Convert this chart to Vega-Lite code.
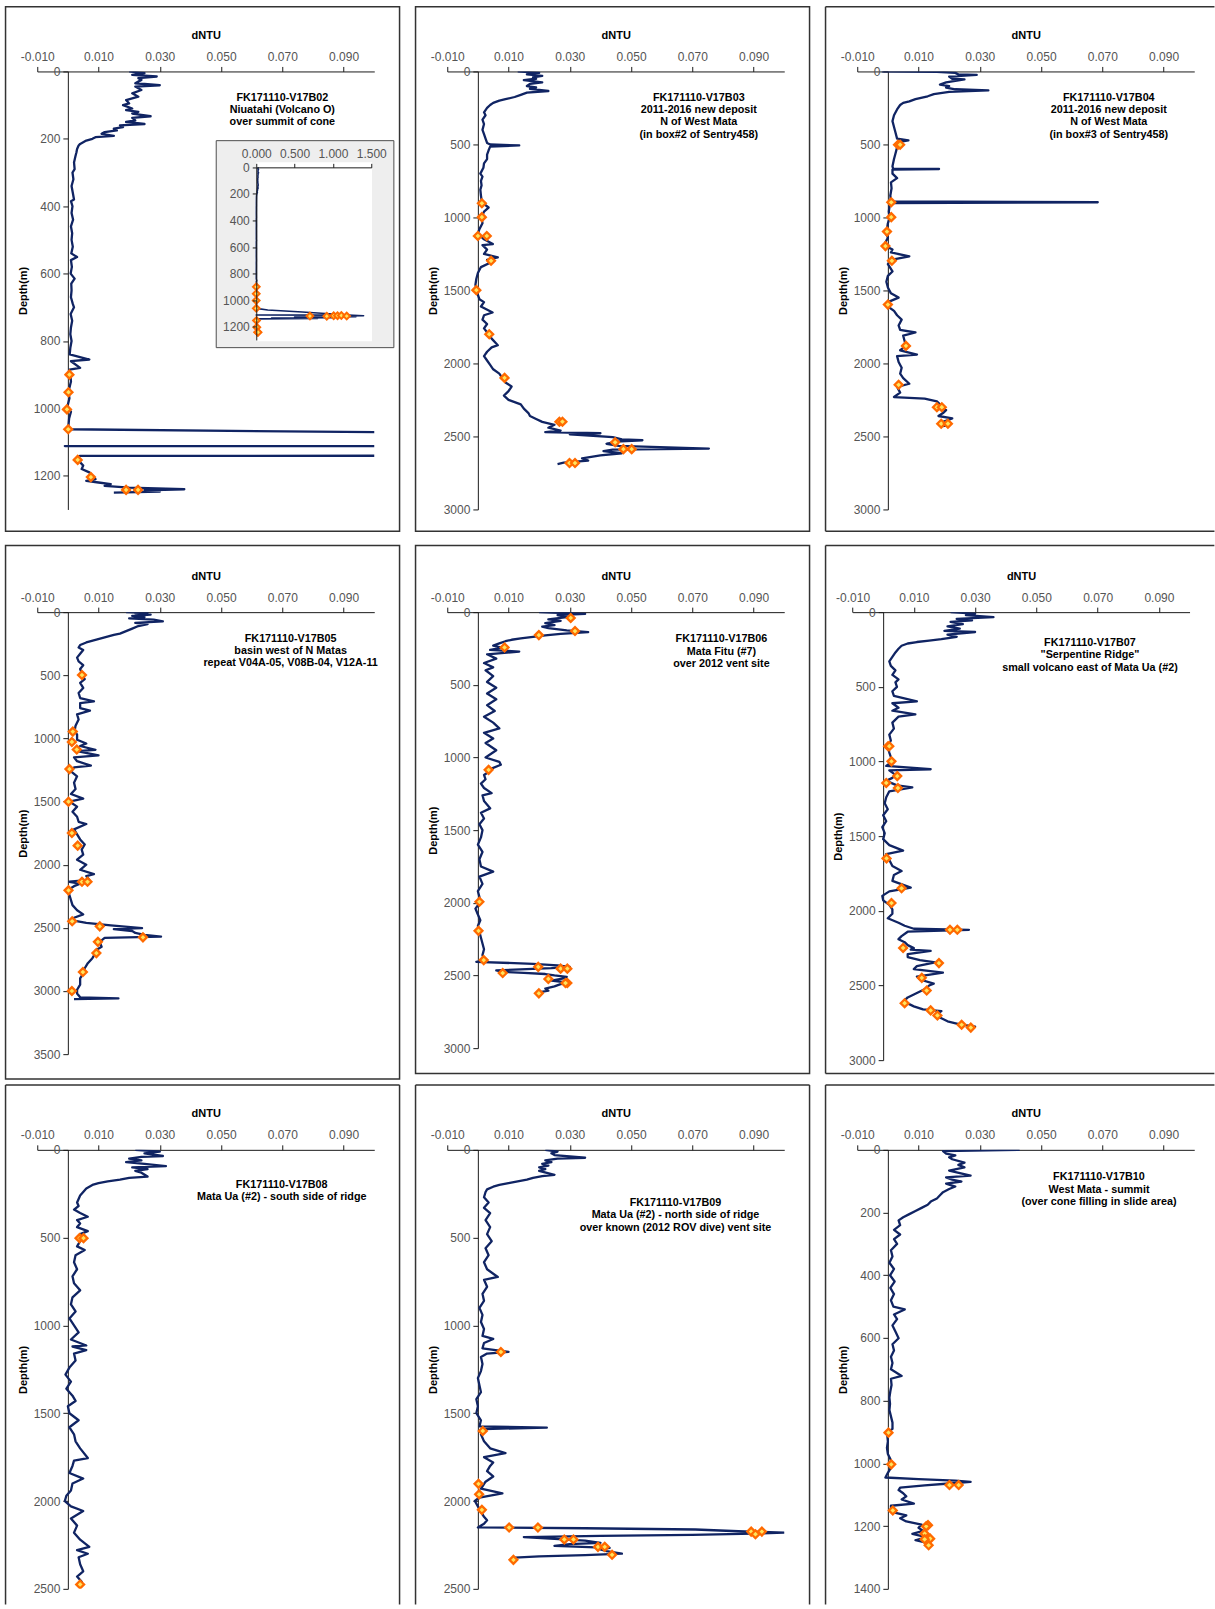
{
  "$schema": "https://vega.github.io/schema/vega-lite/v6.json",
  "autosize": {"type": "pad"},
  "padding": {"left": 4.25, "top": 5.45, "right": 0, "bottom": 0},
  "background": "#ffffff",
  "columns": 3,
  "bounds": "flush",
  "align": "each",
  "spacing": {"row": 89.7, "column": 73},
  "config": {
    "view": {"stroke": null},
    "font": "Liberation Sans",
    "axis": {"grid": false, "labelFlush": false, "labelOverlap": false, "labelFont": "Liberation Sans", "labelFontSize": 12, "labelColor": "#555555", "titleFont": "Liberation Sans", "titleFontSize": 11, "titleFontWeight": "bold", "titleColor": "#000000", "domainColor": "#1a1a1a", "tickColor": "#1a1a1a", "domainWidth": 1, "tickWidth": 1, "tickSize": 5, "labelPadding": 3},
    "axisTop": {"titlePadding": 10},
    "axisLeft": {"titlePadding": 5},
    "line": {"color": "#102463", "strokeWidth": 2.3, "strokeJoin": "round"},
    "point": {"shape": "diamond", "filled": true, "fill": "#ffe45c", "stroke": "#ff6a00", "strokeWidth": 2.3, "size": 62, "opacity": 1}
  },
  "datasets": {
    "b02": [{"d":0,"v":0.020},{"d":5,"v":0.025},{"d":10,"v":0.021},{"d":15,"v":0.029},{"d":20,"v":0.023},{"d":25,"v":0.024},{"d":35,"v":0.022},{"d":41,"v":0.030},{"d":45,"v":0.022},{"d":55,"v":0.024},{"d":65,"v":0.021},{"d":75,"v":0.023},{"d":85,"v":0.019},{"d":95,"v":0.020},{"d":100,"v":0.018},{"d":110,"v":0.021},{"d":115,"v":0.019},{"d":120,"v":0.023},{"d":125,"v":0.021},{"d":133,"v":0.027},{"d":138,"v":0.021},{"d":145,"v":0.022},{"d":150,"v":0.019},{"d":156,"v":0.025},{"d":160,"v":0.017},{"d":165,"v":0.018},{"d":170,"v":0.015},{"d":175,"v":0.016},{"d":180,"v":0.012},{"d":185,"v":0.011},{"d":191,"v":0.015},{"d":195,"v":0.009},{"d":200,"v":0.008},{"d":205,"v":0.006},{"d":210,"v":0.005},{"d":215,"v":0.004},{"d":220,"v":0.0035},{"d":230,"v":0.003},{"d":240,"v":0.0028},{"d":250,"v":0.0025},{"d":270,"v":0.002},{"d":290,"v":0.0022},{"d":300,"v":0.0015},{"d":320,"v":0.0018},{"d":340,"v":0.0012},{"d":360,"v":0.0016},{"d":380,"v":0.0020},{"d":385,"v":0.0010},{"d":400,"v":0.0015},{"d":420,"v":0.0012},{"d":440,"v":0.0017},{"d":460,"v":0.0010},{"d":480,"v":0.0014},{"d":500,"v":0.0012},{"d":520,"v":0.0016},{"d":540,"v":0.0011},{"d":551,"v":0.0030},{"d":560,"v":0.0010},{"d":580,"v":0.0013},{"d":600,"v":0.0009},{"d":615,"v":0.0022},{"d":630,"v":0.0011},{"d":650,"v":0.0012},{"d":670,"v":0.0010},{"d":690,"v":0.0016},{"d":700,"v":0.0020},{"d":720,"v":0.0009},{"d":740,"v":0.0014},{"d":760,"v":0.0010},{"d":780,"v":0.0008},{"d":800,"v":0.0012},{"d":820,"v":0.0008},{"d":840,"v":0.0006},{"d":855,"v":0.0070},{"d":860,"v":0.0010},{"d":880,"v":0.0040},{"d":885,"v":0.0005},{"d":900,"v":0.0008},{"d":920,"v":0.0010},{"d":950,"v":0.0002},{"d":970,"v":0.0005},{"d":1000,"v":-0.0003},{"d":1010,"v":0.0010},{"d":1030,"v":0.0004},{"d":1050,"v":0.0002},{"d":1062,"v":0.0},{"d":1075,"v":0.15},{"d":1090,"v":0.6},{"d":1105,"v":1.0},{"d":1111,"v":1.1},{"d":1112,"v":-0.001},{"d":1113,"v":1.2},{"d":1118,"v":1.4},{"d":1122,"v":0.9},{"d":1125,"v":1.3},{"d":1128,"v":0.5},{"d":1132,"v":1.0},{"d":1135,"v":0.2},{"d":1138,"v":0.8},{"d":1141,"v":0.004},{"d":1145,"v":0.003},{"d":1150,"v":0.0035},{"d":1160,"v":0.004},{"d":1170,"v":0.005},{"d":1180,"v":0.0045},{"d":1190,"v":0.007},{"d":1200,"v":0.008},{"d":1210,"v":0.009},{"d":1215,"v":0.006},{"d":1220,"v":0.010},{"d":1225,"v":0.014},{"d":1230,"v":0.012},{"d":1235,"v":0.020},{"d":1240,"v":0.038},{"d":1243,"v":0.025},{"d":1247,"v":0.030},{"d":1250,"v":0.015}],
    "b02s": [{"d":900,"v":0.0005},{"d":952,"v":0.0002},{"d":1003,"v":-0.0003},{"d":1062,"v":0.0001},{"d":1120,"v":0.70},{"d":1121,"v":0.92},{"d":1118,"v":1.01},{"d":1117,"v":1.06},{"d":1116,"v":1.11},{"d":1120,"v":1.18},{"d":1153,"v":0.0032},{"d":1204,"v":0.0075},{"d":1242,"v":0.019},{"d":1242,"v":0.0229}],
    "b03": [{"d":0,"v":0.013},{"d":10,"v":0.020},{"d":20,"v":0.016},{"d":30,"v":0.021},{"d":40,"v":0.018},{"d":50,"v":0.019},{"d":60,"v":0.015},{"d":75,"v":0.021},{"d":85,"v":0.017},{"d":100,"v":0.016},{"d":110,"v":0.019},{"d":120,"v":0.017},{"d":134,"v":0.023},{"d":145,"v":0.016},{"d":160,"v":0.014},{"d":175,"v":0.012},{"d":190,"v":0.009},{"d":200,"v":0.007},{"d":215,"v":0.005},{"d":230,"v":0.004},{"d":250,"v":0.003},{"d":280,"v":0.002},{"d":300,"v":0.0025},{"d":330,"v":0.0015},{"d":360,"v":0.002},{"d":400,"v":0.0015},{"d":430,"v":0.002},{"d":460,"v":0.0025},{"d":490,"v":0.003},{"d":500,"v":0.004},{"d":507,"v":0.0135},{"d":515,"v":0.004},{"d":540,"v":0.0035},{"d":570,"v":0.003},{"d":600,"v":0.003},{"d":630,"v":0.002},{"d":660,"v":0.0018},{"d":700,"v":0.0008},{"d":720,"v":0.0015},{"d":750,"v":0.001},{"d":780,"v":0.0012},{"d":810,"v":0.0008},{"d":850,"v":0.001},{"d":880,"v":0.0012},{"d":900,"v":0.0015},{"d":932,"v":0.0035},{"d":960,"v":0.002},{"d":1000,"v":0.0012},{"d":1040,"v":0.0015},{"d":1080,"v":0.0005},{"d":1110,"v":0.0},{"d":1130,"v":0.001},{"d":1150,"v":0.002},{"d":1182,"v":0.0049},{"d":1190,"v":0.0015},{"d":1220,"v":0.003},{"d":1250,"v":0.002},{"d":1274,"v":0.0065},{"d":1290,"v":0.003},{"d":1310,"v":0.004},{"d":1340,"v":0.001},{"d":1380,"v":0.0},{"d":1420,"v":-0.0005},{"d":1460,"v":-0.0008},{"d":1500,"v":-0.0005},{"d":1530,"v":0.0},{"d":1560,"v":0.0005},{"d":1580,"v":0.002},{"d":1610,"v":0.001},{"d":1651,"v":0.0048},{"d":1670,"v":0.002},{"d":1700,"v":0.0015},{"d":1730,"v":0.003},{"d":1760,"v":0.002},{"d":1800,"v":0.0035},{"d":1830,"v":0.0045},{"d":1875,"v":0.0065},{"d":1890,"v":0.0045},{"d":1920,"v":0.003},{"d":1950,"v":0.002},{"d":1980,"v":0.003},{"d":2010,"v":0.004},{"d":2040,"v":0.005},{"d":2070,"v":0.007},{"d":2100,"v":0.008},{"d":2130,"v":0.009},{"d":2158,"v":0.011},{"d":2190,"v":0.010},{"d":2220,"v":0.0085},{"d":2250,"v":0.010},{"d":2280,"v":0.014},{"d":2310,"v":0.015},{"d":2340,"v":0.0165},{"d":2360,"v":0.017},{"d":2380,"v":0.019},{"d":2400,"v":0.021},{"d":2420,"v":0.025},{"d":2440,"v":0.023},{"d":2460,"v":0.027},{"d":2470,"v":0.022},{"d":2478,"v":0.040},{"d":2485,"v":0.030},{"d":2505,"v":0.044},{"d":2520,"v":0.047},{"d":2526,"v":0.0537},{"d":2535,"v":0.045},{"d":2550,"v":0.042},{"d":2565,"v":0.046},{"d":2583,"v":0.0754},{"d":2590,"v":0.044},{"d":2600,"v":0.041},{"d":2615,"v":0.047},{"d":2630,"v":0.040},{"d":2650,"v":0.034},{"d":2665,"v":0.036},{"d":2680,"v":0.028},{"d":2690,"v":0.026}],
    "b03s": [{"d":903,"v":0.0013},{"d":998,"v":0.0013},{"d":1127,"v":0.0},{"d":1127,"v":0.0029},{"d":1297,"v":0.0043},{"d":1498,"v":-0.0005},{"d":1800,"v":0.0037},{"d":2099,"v":0.0087},{"d":2399,"v":0.0266},{"d":2399,"v":0.0276},{"d":2540,"v":0.0448},{"d":2587,"v":0.0475},{"d":2587,"v":0.0502},{"d":2682,"v":0.0299},{"d":2682,"v":0.0317}],
    "b04": [{"d":0,"v":-0.002},{"d":2,"v":0.016},{"d":10,"v":0.022},{"d":20,"v":0.023},{"d":24,"v":0.029},{"d":35,"v":0.020},{"d":50,"v":0.021},{"d":54,"v":0.025},{"d":75,"v":0.019},{"d":90,"v":0.017},{"d":100,"v":0.020},{"d":110,"v":0.019},{"d":122,"v":0.022},{"d":130,"v":0.0328},{"d":140,"v":0.020},{"d":155,"v":0.015},{"d":170,"v":0.013},{"d":190,"v":0.009},{"d":205,"v":0.007},{"d":215,"v":0.005},{"d":230,"v":0.004},{"d":260,"v":0.003},{"d":300,"v":0.002},{"d":340,"v":0.0015},{"d":380,"v":0.002},{"d":420,"v":0.0025},{"d":460,"v":0.003},{"d":472,"v":0.0067},{"d":485,"v":0.003},{"d":500,"v":0.004},{"d":520,"v":0.003},{"d":560,"v":0.0025},{"d":600,"v":0.002},{"d":650,"v":0.0015},{"d":665,"v":0.0017},{"d":668,"v":0.0167},{"d":672,"v":0.0015},{"d":700,"v":0.0015},{"d":731,"v":0.003},{"d":760,"v":0.001},{"d":800,"v":0.0012},{"d":850,"v":0.0008},{"d":890,"v":0.001},{"d":896,"v":0.0685},{"d":902,"v":0.0008},{"d":930,"v":0.0005},{"d":960,"v":0.0003},{"d":1000,"v":0.0006},{"d":1040,"v":0.0},{"d":1080,"v":-0.0003},{"d":1110,"v":-0.0006},{"d":1140,"v":0.0},{"d":1170,"v":-0.0008},{"d":1200,"v":-0.0003},{"d":1220,"v":0.0015},{"d":1240,"v":0.001},{"d":1266,"v":0.007},{"d":1290,"v":0.001},{"d":1320,"v":0.0},{"d":1370,"v":0.0015},{"d":1400,"v":0.0},{"d":1440,"v":-0.0005},{"d":1480,"v":0.0},{"d":1520,"v":0.001},{"d":1549,"v":0.0035},{"d":1580,"v":0.0},{"d":1610,"v":0.0},{"d":1640,"v":0.002},{"d":1670,"v":0.003},{"d":1700,"v":0.0045},{"d":1740,"v":0.0035},{"d":1770,"v":0.004},{"d":1788,"v":0.009},{"d":1810,"v":0.005},{"d":1850,"v":0.0055},{"d":1880,"v":0.006},{"d":1910,"v":0.004},{"d":1939,"v":0.0095},{"d":1950,"v":0.003},{"d":1990,"v":0.0035},{"d":2030,"v":0.0045},{"d":2070,"v":0.004},{"d":2100,"v":0.005},{"d":2139,"v":0.007},{"d":2160,"v":0.003},{"d":2200,"v":0.004},{"d":2230,"v":0.002},{"d":2241,"v":0.012},{"d":2260,"v":0.016},{"d":2280,"v":0.017},{"d":2300,"v":0.016},{"d":2320,"v":0.019},{"d":2340,"v":0.018},{"d":2360,"v":0.0165},{"d":2377,"v":0.021},{"d":2400,"v":0.018},{"d":2420,"v":0.020},{"d":2430,"v":0.018}],
    "b04s": [{"d":502,"v":0.0033},{"d":502,"v":0.004},{"d":896,"v":0.0011},{"d":998,"v":0.0011},{"d":1097,"v":-0.0003},{"d":1196,"v":-0.0008},{"d":1297,"v":0.0013},{"d":1597,"v":0.0},{"d":1880,"v":0.0059},{"d":2146,"v":0.0035},{"d":2300,"v":0.016},{"d":2300,"v":0.0176},{"d":2413,"v":0.0174},{"d":2413,"v":0.0196}],
    "b05": [{"d":0,"v":0.019},{"d":5,"v":0.026},{"d":10,"v":0.022},{"d":20,"v":0.027},{"d":30,"v":0.021},{"d":40,"v":0.025},{"d":50,"v":0.020},{"d":60,"v":0.028},{"d":73,"v":0.031},{"d":85,"v":0.022},{"d":95,"v":0.026},{"d":110,"v":0.023},{"d":130,"v":0.021},{"d":150,"v":0.019},{"d":170,"v":0.017},{"d":180,"v":0.015},{"d":200,"v":0.012},{"d":220,"v":0.009},{"d":240,"v":0.006},{"d":260,"v":0.004},{"d":280,"v":0.0035},{"d":300,"v":0.005},{"d":330,"v":0.004},{"d":360,"v":0.003},{"d":390,"v":0.0035},{"d":420,"v":0.005},{"d":450,"v":0.004},{"d":480,"v":0.0045},{"d":500,"v":0.0046},{"d":530,"v":0.0055},{"d":560,"v":0.004},{"d":600,"v":0.005},{"d":640,"v":0.0035},{"d":680,"v":0.004},{"d":707,"v":0.0085},{"d":720,"v":0.004},{"d":760,"v":0.004},{"d":780,"v":0.0072},{"d":810,"v":0.003},{"d":850,"v":0.0035},{"d":900,"v":0.0025},{"d":940,"v":0.0022},{"d":970,"v":0.003},{"d":1010,"v":0.003},{"d":1040,"v":0.006},{"d":1060,"v":0.004},{"d":1090,"v":0.009},{"d":1100,"v":0.003},{"d":1134,"v":0.010},{"d":1150,"v":0.002},{"d":1180,"v":0.003},{"d":1216,"v":0.0075},{"d":1230,"v":0.002},{"d":1260,"v":0.001},{"d":1300,"v":0.003},{"d":1350,"v":0.002},{"d":1400,"v":0.0025},{"d":1440,"v":0.001},{"d":1477,"v":0.005},{"d":1500,"v":0.0005},{"d":1540,"v":0.003},{"d":1580,"v":0.0015},{"d":1620,"v":0.003},{"d":1660,"v":0.0035},{"d":1678,"v":0.006},{"d":1720,"v":0.002},{"d":1760,"v":0.003},{"d":1800,"v":0.004},{"d":1840,"v":0.0055},{"d":1880,"v":0.0045},{"d":1920,"v":0.005},{"d":1960,"v":0.003},{"d":2000,"v":0.006},{"d":2040,"v":0.004},{"d":2075,"v":0.0085},{"d":2090,"v":0.006},{"d":2120,"v":0.007},{"d":2135,"v":0.0005},{"d":2150,"v":0.004},{"d":2170,"v":0.002},{"d":2200,"v":0.0},{"d":2240,"v":0.0005},{"d":2280,"v":0.001},{"d":2320,"v":0.0015},{"d":2360,"v":0.003},{"d":2393,"v":0.005},{"d":2420,"v":0.002},{"d":2440,"v":0.0015},{"d":2460,"v":0.006},{"d":2480,"v":0.014},{"d":2502,"v":0.0242},{"d":2510,"v":0.015},{"d":2525,"v":0.021},{"d":2540,"v":0.022},{"d":2555,"v":0.025},{"d":2570,"v":0.0304},{"d":2580,"v":0.012},{"d":2600,"v":0.011},{"d":2620,"v":0.0105},{"d":2650,"v":0.011},{"d":2680,"v":0.009},{"d":2700,"v":0.009},{"d":2740,"v":0.008},{"d":2780,"v":0.0065},{"d":2820,"v":0.0055},{"d":2860,"v":0.005},{"d":2900,"v":0.004},{"d":2950,"v":0.004},{"d":2990,"v":0.003},{"d":3020,"v":0.003},{"d":3050,"v":0.004},{"d":3059,"v":0.0165},{"d":3065,"v":0.002}],
    "b05s": [{"d":498,"v":0.0046},{"d":946,"v":0.0016},{"d":1028,"v":0.0013},{"d":1088,"v":0.0029},{"d":1243,"v":0.0005},{"d":1501,"v":0.0002},{"d":1749,"v":0.0013},{"d":1849,"v":0.0032},{"d":2135,"v":0.0046},{"d":2135,"v":0.0064},{"d":2203,"v":0.0002},{"d":2448,"v":0.0014},{"d":2488,"v":0.0104},{"d":2575,"v":0.0245},{"d":2611,"v":0.0098},{"d":2700,"v":0.0093},{"d":2850,"v":0.0049},{"d":3000,"v":0.0013}],
    "b06": [{"d":0,"v":0.020},{"d":12,"v":0.035},{"d":20,"v":0.026},{"d":35,"v":0.029},{"d":50,"v":0.023},{"d":60,"v":0.027},{"d":75,"v":0.022},{"d":90,"v":0.025},{"d":100,"v":0.021},{"d":110,"v":0.023},{"d":125,"v":0.029},{"d":137,"v":0.036},{"d":150,"v":0.027},{"d":160,"v":0.022},{"d":170,"v":0.018},{"d":180,"v":0.014},{"d":190,"v":0.011},{"d":200,"v":0.009},{"d":215,"v":0.007},{"d":230,"v":0.005},{"d":245,"v":0.008},{"d":260,"v":0.004},{"d":271,"v":0.0135},{"d":290,"v":0.003},{"d":320,"v":0.006},{"d":350,"v":0.002},{"d":380,"v":0.005},{"d":400,"v":0.0025},{"d":440,"v":0.005},{"d":480,"v":0.003},{"d":520,"v":0.006},{"d":560,"v":0.003},{"d":600,"v":0.006},{"d":640,"v":0.003},{"d":680,"v":0.0055},{"d":720,"v":0.002},{"d":760,"v":0.005},{"d":800,"v":0.007},{"d":830,"v":0.002},{"d":870,"v":0.005},{"d":900,"v":0.0025},{"d":950,"v":0.006},{"d":1000,"v":0.0025},{"d":1030,"v":0.007},{"d":1050,"v":0.0075},{"d":1080,"v":0.004},{"d":1100,"v":0.0035},{"d":1120,"v":0.002},{"d":1150,"v":0.0025},{"d":1180,"v":0.001},{"d":1210,"v":0.002},{"d":1245,"v":0.0045},{"d":1260,"v":0.0015},{"d":1300,"v":0.002},{"d":1350,"v":0.004},{"d":1380,"v":0.001},{"d":1420,"v":0.002},{"d":1460,"v":0.0005},{"d":1500,"v":0.0015},{"d":1550,"v":0.001},{"d":1600,"v":0.0},{"d":1650,"v":0.0015},{"d":1700,"v":0.0005},{"d":1750,"v":0.001},{"d":1785,"v":0.005},{"d":1820,"v":0.0005},{"d":1870,"v":0.0015},{"d":1920,"v":0.0},{"d":1960,"v":0.0005},{"d":2000,"v":0.0006},{"d":2040,"v":-0.0008},{"d":2080,"v":0.0},{"d":2120,"v":0.0008},{"d":2160,"v":0.0},{"d":2200,"v":0.0005},{"d":2240,"v":0.001},{"d":2280,"v":0.0015},{"d":2320,"v":0.002},{"d":2360,"v":0.0015},{"d":2390,"v":0.002},{"d":2400,"v":0.001},{"d":2406,"v":-0.0005},{"d":2420,"v":0.018},{"d":2430,"v":0.026},{"d":2441,"v":0.030},{"d":2450,"v":0.024},{"d":2465,"v":0.006},{"d":2475,"v":0.008},{"d":2482,"v":0.015},{"d":2490,"v":0.022},{"d":2500,"v":0.025},{"d":2510,"v":0.029},{"d":2520,"v":0.028},{"d":2535,"v":0.024},{"d":2550,"v":0.030},{"d":2560,"v":0.027},{"d":2575,"v":0.025},{"d":2590,"v":0.022},{"d":2605,"v":0.023},{"d":2620,"v":0.019}],
    "b06s": [{"d":40,"v":0.0303},{"d":130,"v":0.0317},{"d":158,"v":0.0199},{"d":243,"v":0.0087},{"d":1085,"v":0.0035},{"d":1993,"v":0.0005},{"d":2193,"v":0.0002},{"d":2394,"v":0.0019},{"d":2441,"v":0.0197},{"d":2453,"v":0.027},{"d":2453,"v":0.0292},{"d":2483,"v":0.0081},{"d":2524,"v":0.023},{"d":2552,"v":0.0292},{"d":2552,"v":0.0286},{"d":2623,"v":0.0199}],
    "b07": [{"d":0,"v":0.022},{"d":10,"v":0.030},{"d":20,"v":0.027},{"d":34,"v":0.036},{"d":45,"v":0.024},{"d":55,"v":0.029},{"d":65,"v":0.022},{"d":80,"v":0.026},{"d":95,"v":0.021},{"d":110,"v":0.025},{"d":125,"v":0.020},{"d":133,"v":0.030},{"d":150,"v":0.021},{"d":165,"v":0.024},{"d":180,"v":0.019},{"d":190,"v":0.015},{"d":200,"v":0.011},{"d":210,"v":0.008},{"d":225,"v":0.006},{"d":245,"v":0.005},{"d":270,"v":0.004},{"d":300,"v":0.003},{"d":330,"v":0.002},{"d":360,"v":0.0025},{"d":390,"v":0.004},{"d":420,"v":0.003},{"d":450,"v":0.005},{"d":470,"v":0.004},{"d":500,"v":0.0045},{"d":530,"v":0.003},{"d":560,"v":0.0035},{"d":597,"v":0.011},{"d":610,"v":0.003},{"d":640,"v":0.005},{"d":660,"v":0.003},{"d":685,"v":0.0105},{"d":700,"v":0.005},{"d":740,"v":0.003},{"d":780,"v":0.0035},{"d":820,"v":0.002},{"d":860,"v":0.0025},{"d":900,"v":0.0015},{"d":940,"v":0.002},{"d":970,"v":0.0025},{"d":1000,"v":0.003},{"d":1030,"v":0.001},{"d":1052,"v":0.0155},{"d":1060,"v":0.002},{"d":1090,"v":0.004},{"d":1110,"v":0.003},{"d":1130,"v":0.001},{"d":1160,"v":0.0045},{"d":1174,"v":0.0095},{"d":1200,"v":0.002},{"d":1240,"v":0.001},{"d":1280,"v":0.0005},{"d":1320,"v":0.0015},{"d":1360,"v":0.0},{"d":1400,"v":0.001},{"d":1440,"v":-0.0003},{"d":1480,"v":0.0005},{"d":1520,"v":0.0},{"d":1560,"v":0.002},{"d":1597,"v":0.0065},{"d":1620,"v":0.001},{"d":1660,"v":0.002},{"d":1700,"v":0.003},{"d":1734,"v":0.006},{"d":1760,"v":0.0035},{"d":1800,"v":0.003},{"d":1845,"v":0.009},{"d":1870,"v":0.002},{"d":1900,"v":-0.0003},{"d":1930,"v":0.0},{"d":1960,"v":0.002},{"d":1990,"v":0.003},{"d":2020,"v":0.003},{"d":2050,"v":0.0015},{"d":2080,"v":0.005},{"d":2100,"v":0.007},{"d":2120,"v":0.010},{"d":2127,"v":0.028},{"d":2140,"v":0.008},{"d":2170,"v":0.006},{"d":2190,"v":0.005},{"d":2210,"v":0.007},{"d":2230,"v":0.008},{"d":2250,"v":0.010},{"d":2260,"v":0.009},{"d":2269,"v":0.0155},{"d":2290,"v":0.008},{"d":2310,"v":0.008},{"d":2330,"v":0.012},{"d":2345,"v":0.017},{"d":2370,"v":0.011},{"d":2390,"v":0.010},{"d":2414,"v":0.0195},{"d":2440,"v":0.011},{"d":2460,"v":0.012},{"d":2488,"v":0.0165},{"d":2500,"v":0.015},{"d":2520,"v":0.014},{"d":2540,"v":0.012},{"d":2560,"v":0.010},{"d":2580,"v":0.008},{"d":2600,"v":0.007},{"d":2620,"v":0.008},{"d":2640,"v":0.010},{"d":2660,"v":0.013},{"d":2672,"v":0.019},{"d":2700,"v":0.017},{"d":2720,"v":0.019},{"d":2740,"v":0.021},{"d":2760,"v":0.025},{"d":2775,"v":0.030},{"d":2785,"v":0.028}],
    "b07s": [{"d":898,"v":0.0016},{"d":898,"v":0.002},{"d":999,"v":0.0027},{"d":1098,"v":0.0046},{"d":1144,"v":0.001},{"d":1178,"v":0.0048},{"d":1649,"v":0.0011},{"d":1849,"v":0.006},{"d":1948,"v":0.0027},{"d":2127,"v":0.0218},{"d":2127,"v":0.0242},{"d":2249,"v":0.0065},{"d":2350,"v":0.0182},{"d":2449,"v":0.0126},{"d":2534,"v":0.0142},{"d":2619,"v":0.007},{"d":2667,"v":0.0155},{"d":2701,"v":0.0177},{"d":2763,"v":0.0256},{"d":2782,"v":0.0286}],
    "b08": [{"d":0,"v":0.022},{"d":10,"v":0.030},{"d":20,"v":0.025},{"d":35,"v":0.031},{"d":40,"v":0.024},{"d":50,"v":0.020},{"d":60,"v":0.024},{"d":70,"v":0.019},{"d":80,"v":0.025},{"d":93,"v":0.032},{"d":100,"v":0.021},{"d":110,"v":0.026},{"d":120,"v":0.022},{"d":130,"v":0.024},{"d":152,"v":0.026},{"d":160,"v":0.020},{"d":170,"v":0.017},{"d":180,"v":0.013},{"d":190,"v":0.010},{"d":200,"v":0.008},{"d":220,"v":0.006},{"d":240,"v":0.005},{"d":260,"v":0.004},{"d":280,"v":0.0035},{"d":300,"v":0.003},{"d":320,"v":0.0035},{"d":340,"v":0.002},{"d":360,"v":0.004},{"d":381,"v":0.0065},{"d":400,"v":0.003},{"d":420,"v":0.004},{"d":440,"v":0.003},{"d":463,"v":0.0065},{"d":480,"v":0.004},{"d":500,"v":0.005},{"d":520,"v":0.004},{"d":550,"v":0.003},{"d":570,"v":0.0055},{"d":600,"v":0.0025},{"d":640,"v":0.002},{"d":680,"v":0.003},{"d":720,"v":0.0015},{"d":760,"v":0.002},{"d":800,"v":0.004},{"d":840,"v":0.0015},{"d":880,"v":0.001},{"d":920,"v":0.0025},{"d":960,"v":0.0005},{"d":1000,"v":0.002},{"d":1040,"v":0.0035},{"d":1080,"v":0.001},{"d":1114,"v":0.006},{"d":1120,"v":0.0015},{"d":1140,"v":0.006},{"d":1160,"v":0.002},{"d":1200,"v":0.0025},{"d":1240,"v":0.0005},{"d":1280,"v":-0.0008},{"d":1320,"v":0.001},{"d":1360,"v":-0.0005},{"d":1400,"v":0.0015},{"d":1430,"v":0.0025},{"d":1460,"v":0.0},{"d":1500,"v":0.0005},{"d":1540,"v":0.0035},{"d":1580,"v":0.0005},{"d":1620,"v":0.002},{"d":1660,"v":0.0025},{"d":1700,"v":0.004},{"d":1755,"v":0.0065},{"d":1770,"v":0.002},{"d":1800,"v":0.0015},{"d":1840,"v":0.0005},{"d":1872,"v":0.005},{"d":1900,"v":0.0015},{"d":1940,"v":0.001},{"d":1970,"v":-0.0005},{"d":2000,"v":-0.001},{"d":2030,"v":0.001},{"d":2057,"v":0.005},{"d":2100,"v":0.001},{"d":2140,"v":0.003},{"d":2180,"v":0.002},{"d":2220,"v":0.004},{"d":2261,"v":0.007},{"d":2280,"v":0.003},{"d":2300,"v":0.0065},{"d":2320,"v":0.0035},{"d":2360,"v":0.004},{"d":2400,"v":0.005},{"d":2430,"v":0.003},{"d":2460,"v":0.0045},{"d":2470,"v":0.004}],
    "b08s": [{"d":503,"v":0.0038},{"d":503,"v":0.0051},{"d":2475,"v":0.004}],
    "b09": [{"d":0,"v":0.022},{"d":10,"v":0.026},{"d":20,"v":0.024},{"d":30,"v":0.025},{"d":45,"v":0.035},{"d":50,"v":0.026},{"d":60,"v":0.022},{"d":70,"v":0.024},{"d":80,"v":0.021},{"d":90,"v":0.023},{"d":100,"v":0.020},{"d":110,"v":0.022},{"d":120,"v":0.020},{"d":142,"v":0.025},{"d":150,"v":0.021},{"d":160,"v":0.018},{"d":170,"v":0.016},{"d":180,"v":0.013},{"d":190,"v":0.010},{"d":200,"v":0.007},{"d":210,"v":0.005},{"d":225,"v":0.003},{"d":240,"v":0.0025},{"d":270,"v":0.002},{"d":300,"v":0.0035},{"d":330,"v":0.002},{"d":360,"v":0.004},{"d":400,"v":0.0025},{"d":440,"v":0.004},{"d":480,"v":0.003},{"d":520,"v":0.0045},{"d":560,"v":0.0025},{"d":600,"v":0.0035},{"d":640,"v":0.002},{"d":680,"v":0.003},{"d":724,"v":0.0065},{"d":740,"v":0.002},{"d":780,"v":0.003},{"d":820,"v":0.0015},{"d":860,"v":0.002},{"d":900,"v":0.0005},{"d":940,"v":0.0015},{"d":980,"v":0.001},{"d":1020,"v":0.002},{"d":1060,"v":0.0015},{"d":1077,"v":0.005},{"d":1100,"v":0.002},{"d":1130,"v":0.0015},{"d":1151,"v":0.010},{"d":1160,"v":0.003},{"d":1180,"v":0.001},{"d":1220,"v":0.0015},{"d":1260,"v":0.001},{"d":1300,"v":0.0},{"d":1340,"v":0.0005},{"d":1380,"v":0.001},{"d":1420,"v":-0.0005},{"d":1460,"v":0.0},{"d":1500,"v":-0.0005},{"d":1540,"v":0.001},{"d":1575,"v":0.0005},{"d":1582,"v":0.0225},{"d":1590,"v":0.002},{"d":1620,"v":0.001},{"d":1660,"v":0.002},{"d":1700,"v":0.004},{"d":1727,"v":0.009},{"d":1750,"v":0.002},{"d":1780,"v":0.005},{"d":1800,"v":0.004},{"d":1830,"v":0.003},{"d":1860,"v":0.005},{"d":1890,"v":0.0025},{"d":1930,"v":0.001},{"d":1957,"v":0.008},{"d":1980,"v":0.0005},{"d":2000,"v":-0.001},{"d":2030,"v":0.0},{"d":2060,"v":0.001},{"d":2090,"v":0.002},{"d":2110,"v":0.003},{"d":2130,"v":0.002},{"d":2150,"v":0.0},{"d":2155,"v":0.035},{"d":2162,"v":0.071},{"d":2172,"v":0.085},{"d":2180,"v":0.100},{"d":2186,"v":0.090},{"d":2193,"v":0.070},{"d":2198,"v":0.040},{"d":2205,"v":0.015},{"d":2215,"v":0.025},{"d":2225,"v":0.035},{"d":2238,"v":0.040},{"d":2245,"v":0.030},{"d":2255,"v":0.025},{"d":2267,"v":0.043},{"d":2275,"v":0.040},{"d":2285,"v":0.042},{"d":2300,"v":0.047},{"d":2308,"v":0.035},{"d":2315,"v":0.020},{"d":2322,"v":0.012},{"d":2330,"v":0.011}],
    "b09s": [{"d":1151,"v":0.0075},{"d":1601,"v":0.0016},{"d":1902,"v":0.0002},{"d":1962,"v":0.0004},{"d":2050,"v":0.0013},{"d":2151,"v":0.0102},{"d":2151,"v":0.0196},{"d":2174,"v":0.0892},{"d":2189,"v":0.0906},{"d":2174,"v":0.0927},{"d":2219,"v":0.0282},{"d":2219,"v":0.0312},{"d":2261,"v":0.0392},{"d":2261,"v":0.0414},{"d":2306,"v":0.0438},{"d":2335,"v":0.0116}],
    "b10": [{"d":0,"v":0.043},{"d":4,"v":0.018},{"d":12,"v":0.019},{"d":18,"v":0.022},{"d":24,"v":0.020},{"d":30,"v":0.021},{"d":41,"v":0.025},{"d":48,"v":0.023},{"d":56,"v":0.025},{"d":66,"v":0.020},{"d":82,"v":0.027},{"d":88,"v":0.019},{"d":95,"v":0.021},{"d":101,"v":0.024},{"d":108,"v":0.019},{"d":117,"v":0.022},{"d":125,"v":0.020},{"d":135,"v":0.018},{"d":145,"v":0.017},{"d":155,"v":0.016},{"d":165,"v":0.014},{"d":175,"v":0.013},{"d":185,"v":0.011},{"d":195,"v":0.009},{"d":205,"v":0.007},{"d":215,"v":0.005},{"d":225,"v":0.0035},{"d":240,"v":0.004},{"d":255,"v":0.002},{"d":270,"v":0.004},{"d":285,"v":0.002},{"d":300,"v":0.003},{"d":320,"v":0.001},{"d":340,"v":0.0015},{"d":360,"v":0.0005},{"d":380,"v":0.002},{"d":400,"v":0.0007},{"d":420,"v":0.0022},{"d":440,"v":0.0008},{"d":460,"v":0.002},{"d":480,"v":0.001},{"d":500,"v":0.0018},{"d":509,"v":0.0055},{"d":525,"v":0.002},{"d":540,"v":0.003},{"d":560,"v":0.0015},{"d":580,"v":0.0025},{"d":601,"v":0.0035},{"d":620,"v":0.0015},{"d":640,"v":0.002},{"d":660,"v":0.001},{"d":680,"v":0.0015},{"d":700,"v":0.001},{"d":721,"v":0.0045},{"d":730,"v":0.001},{"d":750,"v":0.0012},{"d":770,"v":0.0008},{"d":790,"v":0.0005},{"d":810,"v":0.0007},{"d":830,"v":0.0005},{"d":850,"v":0.001},{"d":870,"v":0.0015},{"d":890,"v":0.0015},{"d":900,"v":0.0},{"d":910,"v":-0.0002},{"d":930,"v":0.0},{"d":950,"v":-0.0003},{"d":970,"v":0.0},{"d":990,"v":0.001},{"d":1010,"v":0.0012},{"d":1030,"v":0.0},{"d":1045,"v":-0.0008},{"d":1050,"v":0.010},{"d":1055,"v":0.022},{"d":1059,"v":0.027},{"d":1064,"v":0.020},{"d":1070,"v":0.012},{"d":1077,"v":0.004},{"d":1085,"v":0.0035},{"d":1095,"v":0.005},{"d":1105,"v":0.006},{"d":1115,"v":0.0045},{"d":1128,"v":0.0085},{"d":1135,"v":0.001},{"d":1145,"v":0.001},{"d":1155,"v":0.0015},{"d":1166,"v":0.006},{"d":1175,"v":0.004},{"d":1185,"v":0.006},{"d":1195,"v":0.011},{"d":1205,"v":0.010},{"d":1215,"v":0.0115},{"d":1225,"v":0.008},{"d":1235,"v":0.0125},{"d":1245,"v":0.009},{"d":1255,"v":0.0135},{"d":1262,"v":0.012}],
    "b10s": [{"d":902,"v":0.0002},{"d":1003,"v":0.0011},{"d":1069,"v":0.0201},{"d":1069,"v":0.0231},{"d":1150,"v":0.0016},{"d":1197,"v":0.0131},{"d":1201,"v":0.0125},{"d":1224,"v":0.012},{"d":1240,"v":0.0138},{"d":1242,"v":0.012},{"d":1261,"v":0.0133}]
  },
  "concat": [
    {
      "width": 337, "height": 450.1,
      "layer": [
        {
          "layer": [
            {"data": {"values": [{}]}, "mark": {"type": "rect", "filled": false, "color": "#333333", "strokeWidth": 1.5}, "encoding": {"x": {"datum": -0.02035, "type": "quantitative", "title": "dNTU"}, "x2": {"datum": 0.10826}, "y": {"datum": -191.7, "type": "quantitative", "title": "Depth(m)"}, "y2": {"datum": 1364.4}}},
            {"data": {"name": "b02"}, "mark": {"type": "line", "clip": true}, "encoding": {"x": {"field": "v", "type": "quantitative", "title": "dNTU", "scale": {"domain": [-0.01, 0.1], "nice": false, "zero": false}, "axis": {"orient": "top", "values": [-0.01, 0.01, 0.03, 0.05, 0.07, 0.09], "labelExpr": "replace(format(datum.value, '.3f'), '\u2212', '-')"}}, "y": {"field": "d", "type": "quantitative", "title": "Depth(m)", "scale": {"domain": [0, 1300], "range": [0, 438], "nice": false, "zero": false}, "axis": {"orient": "left", "offset": -30.6, "values": [0, 200, 400, 600, 800, 1000, 1200], "format": "d"}}, "order": {"field": "d", "type": "quantitative"}}},
            {"data": {"name": "b02s"}, "mark": {"type": "point", "clip": true}, "encoding": {"x": {"field": "v", "type": "quantitative", "title": "dNTU"}, "y": {"field": "d", "type": "quantitative", "title": "Depth(m)"}}},
            {"data": {"values": [{}]}, "mark": {"type": "text", "align": "center", "baseline": "top", "fontWeight": "bold", "fontSize": 10.8, "lineHeight": 12.4, "color": "#000000", "text": ["FK171110-V17B02", "Niuatahi (Volcano O)", "over summit of cone"]}, "encoding": {"x": {"datum": 0.07, "type": "quantitative", "title": "dNTU"}, "y": {"datum": 60, "type": "quantitative", "title": "Depth(m)"}}}
          ]
        },
        {
          "layer": [
            {"data": {"values": [{}]}, "mark": {"type": "rect", "color": "#eeeeee", "stroke": "#4d4d4d", "strokeWidth": 1}, "encoding": {"x": {"datum": -0.522, "type": "quantitative", "title": null, "scale": {"domain": [0, 1.5], "range": [219, 334], "nice": false, "zero": false}}, "x2": {"datum": 1.795}, "y": {"datum": -201, "type": "quantitative", "title": null, "scale": {"domain": [0, 1300], "range": [95.9, 268.5], "nice": false, "zero": false}}, "y2": {"datum": 1358}}},
            {"data": {"values": [{}]}, "mark": {"type": "rect", "color": "#ffffff"}, "encoding": {"x": {"datum": 0, "type": "quantitative", "title": null}, "x2": {"datum": 1.51}, "y": {"datum": -38, "type": "quantitative", "title": null}, "y2": {"datum": 1310}}},
            {"data": {"name": "b02"}, "mark": {"type": "line", "strokeWidth": 1.6}, "encoding": {"x": {"field": "v", "type": "quantitative", "title": null, "scale": {"domain": [0, 1.5], "range": [219, 334], "nice": false, "zero": false}, "axis": {"orient": "top", "offset": -95.9, "values": [0, 0.5, 1, 1.5], "format": ".3f", "tickSize": 4, "zindex": 2}}, "y": {"field": "d", "type": "quantitative", "title": null, "scale": {"domain": [0, 1300], "range": [95.9, 268.5], "nice": false, "zero": false}, "axis": {"orient": "left", "offset": -219, "values": [0, 200, 400, 600, 800, 1000, 1200], "format": "d", "tickSize": 4, "zindex": 2}}, "order": {"field": "d", "type": "quantitative"}}},
            {"data": {"name": "b02s"}, "mark": {"type": "point", "size": 45, "strokeWidth": 2}, "encoding": {"x": {"field": "v", "type": "quantitative", "title": null}, "y": {"field": "d", "type": "quantitative", "title": null}}}
          ]
        }
      ],
      "resolve": {"scale": {"x": "independent", "y": "independent"}, "axis": {"x": "independent", "y": "independent"}}
    },
    {
      "width": 337, "height": 450.1,
      "layer": [
        {"data": {"values": [{}]}, "mark": {"type": "rect", "filled": false, "color": "#333333", "strokeWidth": 1.5}, "encoding": {"x": {"datum": -0.02035, "type": "quantitative", "title": "dNTU"}, "x2": {"datum": 0.10826}, "y": {"datum": -442.5, "type": "quantitative", "title": "Depth(m)"}, "y2": {"datum": 3148.6}}},
        {"data": {"name": "b03"}, "mark": {"type": "line", "clip": true}, "encoding": {"x": {"field": "v", "type": "quantitative", "title": "dNTU", "scale": {"domain": [-0.01, 0.1], "nice": false, "zero": false}, "axis": {"orient": "top", "values": [-0.01, 0.01, 0.03, 0.05, 0.07, 0.09], "labelExpr": "replace(format(datum.value, '.3f'), '\u2212', '-')"}}, "y": {"field": "d", "type": "quantitative", "title": "Depth(m)", "scale": {"domain": [0, 3000], "range": [0, 438], "nice": false, "zero": false}, "axis": {"orient": "left", "offset": -30.6, "values": [0, 500, 1000, 1500, 2000, 2500, 3000], "format": "d"}}, "order": {"field": "d", "type": "quantitative"}}},
        {"data": {"name": "b03s"}, "mark": {"type": "point", "clip": true}, "encoding": {"x": {"field": "v", "type": "quantitative", "title": "dNTU"}, "y": {"field": "d", "type": "quantitative", "title": "Depth(m)"}}},
        {"data": {"values": [{}]}, "mark": {"type": "text", "align": "center", "baseline": "top", "fontWeight": "bold", "fontSize": 10.8, "lineHeight": 12.4, "color": "#000000", "text": ["FK171110-V17B03", "2011-2016 new deposit", "N of West Mata", "(in box#2 of Sentry458)"]}, "encoding": {"x": {"datum": 0.0721, "type": "quantitative", "title": "dNTU"}, "y": {"datum": 138, "type": "quantitative", "title": "Depth(m)"}}}
      ]
    },
    {
      "width": 337, "height": 450.1,
      "layer": [
        {"data": {"values": [{}]}, "mark": {"type": "rule", "color": "#333333", "strokeWidth": 1.5}, "encoding": {"x": {"datum": -0.02035, "type": "quantitative", "title": "dNTU"}, "x2": {"datum": 0.1066}, "y": {"datum": -442.5, "type": "quantitative", "title": "Depth(m)"}}},
        {"data": {"values": [{}]}, "mark": {"type": "rule", "color": "#333333", "strokeWidth": 1.5}, "encoding": {"x": {"datum": -0.02035, "type": "quantitative", "title": "dNTU"}, "y": {"datum": -442.5, "type": "quantitative", "title": "Depth(m)"}, "y2": {"datum": 3148.6}}},
        {"data": {"values": [{}]}, "mark": {"type": "rule", "color": "#333333", "strokeWidth": 1.5}, "encoding": {"x": {"datum": -0.02035, "type": "quantitative", "title": "dNTU"}, "x2": {"datum": 0.1066}, "y": {"datum": 3148.6, "type": "quantitative", "title": "Depth(m)"}}},
        {"data": {"name": "b04"}, "mark": {"type": "line", "clip": true}, "encoding": {"x": {"field": "v", "type": "quantitative", "title": "dNTU", "scale": {"domain": [-0.01, 0.1], "nice": false, "zero": false}, "axis": {"orient": "top", "values": [-0.01, 0.01, 0.03, 0.05, 0.07, 0.09], "labelExpr": "replace(format(datum.value, '.3f'), '\u2212', '-')"}}, "y": {"field": "d", "type": "quantitative", "title": "Depth(m)", "scale": {"domain": [0, 3000], "range": [0, 438], "nice": false, "zero": false}, "axis": {"orient": "left", "offset": -30.6, "values": [0, 500, 1000, 1500, 2000, 2500, 3000], "format": "d"}}, "order": {"field": "d", "type": "quantitative"}}},
        {"data": {"name": "b04s"}, "mark": {"type": "point", "clip": true}, "encoding": {"x": {"field": "v", "type": "quantitative", "title": "dNTU"}, "y": {"field": "d", "type": "quantitative", "title": "Depth(m)"}}},
        {"data": {"values": [{}]}, "mark": {"type": "text", "align": "center", "baseline": "top", "fontWeight": "bold", "fontSize": 10.8, "lineHeight": 12.4, "color": "#000000", "text": ["FK171110-V17B04", "2011-2016 new deposit", "N of West Mata", "(in box#3 of Sentry458)"]}, "encoding": {"x": {"datum": 0.0721, "type": "quantitative", "title": "dNTU"}, "y": {"datum": 138, "type": "quantitative", "title": "Depth(m)"}}}
      ]
    },
    {
      "width": 337, "height": 448,
      "layer": [
        {"data": {"values": [{}]}, "mark": {"type": "rect", "filled": false, "color": "#333333", "strokeWidth": 1.5}, "encoding": {"x": {"datum": -0.02035, "type": "quantitative", "title": "dNTU"}, "x2": {"datum": 0.10826}, "y": {"datum": -527.4, "type": "quantitative", "title": "Depth(m)"}, "y2": {"datum": 3697}}},
        {"data": {"name": "b05"}, "mark": {"type": "line", "clip": true}, "encoding": {"x": {"field": "v", "type": "quantitative", "title": "dNTU", "scale": {"domain": [-0.01, 0.1], "nice": false, "zero": false}, "axis": {"orient": "top", "values": [-0.01, 0.01, 0.03, 0.05, 0.07, 0.09], "labelExpr": "replace(format(datum.value, '.3f'), '\u2212', '-')"}}, "y": {"field": "d", "type": "quantitative", "title": "Depth(m)", "scale": {"domain": [0, 3500], "range": [0, 442], "nice": false, "zero": false}, "axis": {"orient": "left", "offset": -30.6, "values": [0, 500, 1000, 1500, 2000, 2500, 3000, 3500], "format": "d"}}, "order": {"field": "d", "type": "quantitative"}}},
        {"data": {"name": "b05s"}, "mark": {"type": "point", "clip": true}, "encoding": {"x": {"field": "v", "type": "quantitative", "title": "dNTU"}, "y": {"field": "d", "type": "quantitative", "title": "Depth(m)"}}},
        {"data": {"values": [{}]}, "mark": {"type": "text", "align": "center", "baseline": "top", "fontWeight": "bold", "fontSize": 10.8, "lineHeight": 12.4, "color": "#000000", "text": ["FK171110-V17B05", "basin west of N Matas", "repeat V04A-05, V08B-04, V12A-11"]}, "encoding": {"x": {"datum": 0.0727, "type": "quantitative", "title": "dNTU"}, "y": {"datum": 161.5, "type": "quantitative", "title": "Depth(m)"}}}
      ]
    },
    {
      "width": 337, "height": 448,
      "layer": [
        {"data": {"values": [{}]}, "mark": {"type": "rect", "filled": false, "color": "#333333", "strokeWidth": 1.5}, "encoding": {"x": {"datum": -0.02035, "type": "quantitative", "title": "dNTU"}, "x2": {"datum": 0.10826}, "y": {"datum": -458.3, "type": "quantitative", "title": "Depth(m)"}, "y2": {"datum": 3174.8}}},
        {"data": {"name": "b06"}, "mark": {"type": "line", "clip": true}, "encoding": {"x": {"field": "v", "type": "quantitative", "title": "dNTU", "scale": {"domain": [-0.01, 0.1], "nice": false, "zero": false}, "axis": {"orient": "top", "values": [-0.01, 0.01, 0.03, 0.05, 0.07, 0.09], "labelExpr": "replace(format(datum.value, '.3f'), '\u2212', '-')"}}, "y": {"field": "d", "type": "quantitative", "title": "Depth(m)", "scale": {"domain": [0, 3000], "range": [0, 436], "nice": false, "zero": false}, "axis": {"orient": "left", "offset": -30.6, "values": [0, 500, 1000, 1500, 2000, 2500, 3000], "format": "d"}}, "order": {"field": "d", "type": "quantitative"}}},
        {"data": {"name": "b06s"}, "mark": {"type": "point", "clip": true}, "encoding": {"x": {"field": "v", "type": "quantitative", "title": "dNTU"}, "y": {"field": "d", "type": "quantitative", "title": "Depth(m)"}}},
        {"data": {"values": [{}]}, "mark": {"type": "text", "align": "center", "baseline": "top", "fontWeight": "bold", "fontSize": 10.8, "lineHeight": 12.4, "color": "#000000", "text": ["FK171110-V17B06", "Mata Fitu (#7)", "over 2012 vent site"]}, "encoding": {"x": {"datum": 0.0795, "type": "quantitative", "title": "dNTU"}, "y": {"datum": 144.5, "type": "quantitative", "title": "Depth(m)"}}}
      ]
    },
    {
      "width": 337, "height": 448,
      "layer": [
        {"data": {"values": [{}]}, "mark": {"type": "rule", "color": "#333333", "strokeWidth": 1.5}, "encoding": {"x": {"datum": -0.01881, "type": "quantitative", "title": "dNTU"}, "x2": {"datum": 0.1081}, "y": {"datum": -446, "type": "quantitative", "title": "Depth(m)"}}},
        {"data": {"values": [{}]}, "mark": {"type": "rule", "color": "#333333", "strokeWidth": 1.5}, "encoding": {"x": {"datum": -0.01881, "type": "quantitative", "title": "dNTU"}, "y": {"datum": -446, "type": "quantitative", "title": "Depth(m)"}, "y2": {"datum": 3089.7}}},
        {"data": {"values": [{}]}, "mark": {"type": "rule", "color": "#333333", "strokeWidth": 1.5}, "encoding": {"x": {"datum": -0.01881, "type": "quantitative", "title": "dNTU"}, "x2": {"datum": 0.1081}, "y": {"datum": 3089.7, "type": "quantitative", "title": "Depth(m)"}}},
        {"data": {"name": "b07"}, "mark": {"type": "line", "clip": true}, "encoding": {"x": {"field": "v", "type": "quantitative", "title": "dNTU", "scale": {"domain": [-0.01, 0.1], "range": [-4.7, 332.3], "nice": false, "zero": false}, "axis": {"orient": "top", "values": [-0.01, 0.01, 0.03, 0.05, 0.07, 0.09], "labelExpr": "replace(format(datum.value, '.3f'), '\u2212', '-')"}}, "y": {"field": "d", "type": "quantitative", "title": "Depth(m)", "scale": {"domain": [0, 3000], "range": [0, 448], "nice": false, "zero": false}, "axis": {"orient": "left", "offset": -25.9, "values": [0, 500, 1000, 1500, 2000, 2500, 3000], "format": "d"}}, "order": {"field": "d", "type": "quantitative"}}},
        {"data": {"name": "b07s"}, "mark": {"type": "point", "clip": true}, "encoding": {"x": {"field": "v", "type": "quantitative", "title": "dNTU"}, "y": {"field": "d", "type": "quantitative", "title": "Depth(m)"}}},
        {"data": {"values": [{}]}, "mark": {"type": "text", "align": "center", "baseline": "top", "fontWeight": "bold", "fontSize": 10.8, "lineHeight": 12.4, "color": "#000000", "text": ["FK171110-V17B07", "\"Serpentine Ridge\"", "small volcano east of Mata Ua (#2)"]}, "encoding": {"x": {"datum": 0.0675, "type": "quantitative", "title": "dNTU"}, "y": {"datum": 166, "type": "quantitative", "title": "Depth(m)"}}}
      ]
    },
    {
      "width": 337, "height": 439,
      "layer": [
        {"data": {"values": [{}]}, "mark": {"type": "rule", "color": "#333333", "strokeWidth": 1.5}, "encoding": {"x": {"datum": -0.02035, "type": "quantitative", "title": "dNTU"}, "x2": {"datum": 0.10826}, "y": {"datum": -369, "type": "quantitative", "title": "Depth(m)"}}},
        {"data": {"values": [{}]}, "mark": {"type": "rule", "color": "#333333", "strokeWidth": 1.5}, "encoding": {"x": {"datum": -0.02035, "type": "quantitative", "title": "dNTU"}, "y": {"datum": -369, "type": "quantitative", "title": "Depth(m)"}, "y2": {"datum": 2589}}},
        {"data": {"values": [{}]}, "mark": {"type": "rule", "color": "#333333", "strokeWidth": 1.5}, "encoding": {"x": {"datum": 0.10826, "type": "quantitative", "title": "dNTU"}, "y": {"datum": -369, "type": "quantitative", "title": "Depth(m)"}, "y2": {"datum": 2589}}},
        {"data": {"name": "b08"}, "mark": {"type": "line", "clip": true}, "encoding": {"x": {"field": "v", "type": "quantitative", "title": "dNTU", "scale": {"domain": [-0.01, 0.1], "nice": false, "zero": false}, "axis": {"orient": "top", "values": [-0.01, 0.01, 0.03, 0.05, 0.07, 0.09], "labelExpr": "replace(format(datum.value, '.3f'), '\u2212', '-')"}}, "y": {"field": "d", "type": "quantitative", "title": "Depth(m)", "scale": {"domain": [0, 2500], "range": [0, 439], "nice": false, "zero": false}, "axis": {"orient": "left", "offset": -30.6, "values": [0, 500, 1000, 1500, 2000, 2500], "format": "d"}}, "order": {"field": "d", "type": "quantitative"}}},
        {"data": {"name": "b08s"}, "mark": {"type": "point", "clip": true}, "encoding": {"x": {"field": "v", "type": "quantitative", "title": "dNTU"}, "y": {"field": "d", "type": "quantitative", "title": "Depth(m)"}}},
        {"data": {"values": [{}]}, "mark": {"type": "text", "align": "center", "baseline": "top", "fontWeight": "bold", "fontSize": 10.8, "lineHeight": 12.4, "color": "#000000", "text": ["FK171110-V17B08", "Mata Ua (#2) - south side of ridge"]}, "encoding": {"x": {"datum": 0.0698, "type": "quantitative", "title": "dNTU"}, "y": {"datum": 165.7, "type": "quantitative", "title": "Depth(m)"}}}
      ]
    },
    {
      "width": 337, "height": 439,
      "layer": [
        {"data": {"values": [{}]}, "mark": {"type": "rule", "color": "#333333", "strokeWidth": 1.5}, "encoding": {"x": {"datum": -0.02035, "type": "quantitative", "title": "dNTU"}, "x2": {"datum": 0.10826}, "y": {"datum": -369, "type": "quantitative", "title": "Depth(m)"}}},
        {"data": {"values": [{}]}, "mark": {"type": "rule", "color": "#333333", "strokeWidth": 1.5}, "encoding": {"x": {"datum": -0.02035, "type": "quantitative", "title": "dNTU"}, "y": {"datum": -369, "type": "quantitative", "title": "Depth(m)"}, "y2": {"datum": 2589}}},
        {"data": {"values": [{}]}, "mark": {"type": "rule", "color": "#333333", "strokeWidth": 1.5}, "encoding": {"x": {"datum": 0.10826, "type": "quantitative", "title": "dNTU"}, "y": {"datum": -369, "type": "quantitative", "title": "Depth(m)"}, "y2": {"datum": 2589}}},
        {"data": {"name": "b09"}, "mark": {"type": "line", "clip": true}, "encoding": {"x": {"field": "v", "type": "quantitative", "title": "dNTU", "scale": {"domain": [-0.01, 0.1], "nice": false, "zero": false}, "axis": {"orient": "top", "values": [-0.01, 0.01, 0.03, 0.05, 0.07, 0.09], "labelExpr": "replace(format(datum.value, '.3f'), '\u2212', '-')"}}, "y": {"field": "d", "type": "quantitative", "title": "Depth(m)", "scale": {"domain": [0, 2500], "range": [0, 439], "nice": false, "zero": false}, "axis": {"orient": "left", "offset": -30.6, "values": [0, 500, 1000, 1500, 2000, 2500], "format": "d"}}, "order": {"field": "d", "type": "quantitative"}}},
        {"data": {"name": "b09s"}, "mark": {"type": "point", "clip": true}, "encoding": {"x": {"field": "v", "type": "quantitative", "title": "dNTU"}, "y": {"field": "d", "type": "quantitative", "title": "Depth(m)"}}},
        {"data": {"values": [{}]}, "mark": {"type": "text", "align": "center", "baseline": "top", "fontWeight": "bold", "fontSize": 10.8, "lineHeight": 12.4, "color": "#000000", "text": ["FK171110-V17B09", "Mata Ua (#2) - north side of ridge", "over known (2012 ROV dive) vent site"]}, "encoding": {"x": {"datum": 0.0645, "type": "quantitative", "title": "dNTU"}, "y": {"datum": 268.8, "type": "quantitative", "title": "Depth(m)"}}}
      ]
    },
    {
      "width": 337, "height": 439,
      "layer": [
        {"data": {"values": [{}]}, "mark": {"type": "rule", "color": "#333333", "strokeWidth": 1.5}, "encoding": {"x": {"datum": -0.02035, "type": "quantitative", "title": "dNTU"}, "x2": {"datum": 0.1066}, "y": {"datum": -206.6, "type": "quantitative", "title": "Depth(m)"}}},
        {"data": {"values": [{}]}, "mark": {"type": "rule", "color": "#333333", "strokeWidth": 1.5}, "encoding": {"x": {"datum": -0.02035, "type": "quantitative", "title": "dNTU"}, "y": {"datum": -206.6, "type": "quantitative", "title": "Depth(m)"}, "y2": {"datum": 1450}}},
        {"data": {"name": "b10"}, "mark": {"type": "line", "clip": true}, "encoding": {"x": {"field": "v", "type": "quantitative", "title": "dNTU", "scale": {"domain": [-0.01, 0.1], "nice": false, "zero": false}, "axis": {"orient": "top", "values": [-0.01, 0.01, 0.03, 0.05, 0.07, 0.09], "labelExpr": "replace(format(datum.value, '.3f'), '\u2212', '-')"}}, "y": {"field": "d", "type": "quantitative", "title": "Depth(m)", "scale": {"domain": [0, 1400], "range": [0, 439], "nice": false, "zero": false}, "axis": {"orient": "left", "offset": -30.6, "values": [0, 200, 400, 600, 800, 1000, 1200, 1400], "format": "d"}}, "order": {"field": "d", "type": "quantitative"}}},
        {"data": {"name": "b10s"}, "mark": {"type": "point", "clip": true}, "encoding": {"x": {"field": "v", "type": "quantitative", "title": "dNTU"}, "y": {"field": "d", "type": "quantitative", "title": "Depth(m)"}}},
        {"data": {"values": [{}]}, "mark": {"type": "text", "align": "center", "baseline": "top", "fontWeight": "bold", "fontSize": 10.8, "lineHeight": 12.4, "color": "#000000", "text": ["FK171110-V17B10", "West Mata - summit", "(over cone filling in slide area)"]}, "encoding": {"x": {"datum": 0.0689, "type": "quantitative", "title": "dNTU"}, "y": {"datum": 68.9, "type": "quantitative", "title": "Depth(m)"}}}
      ]
    }
  ]
}
